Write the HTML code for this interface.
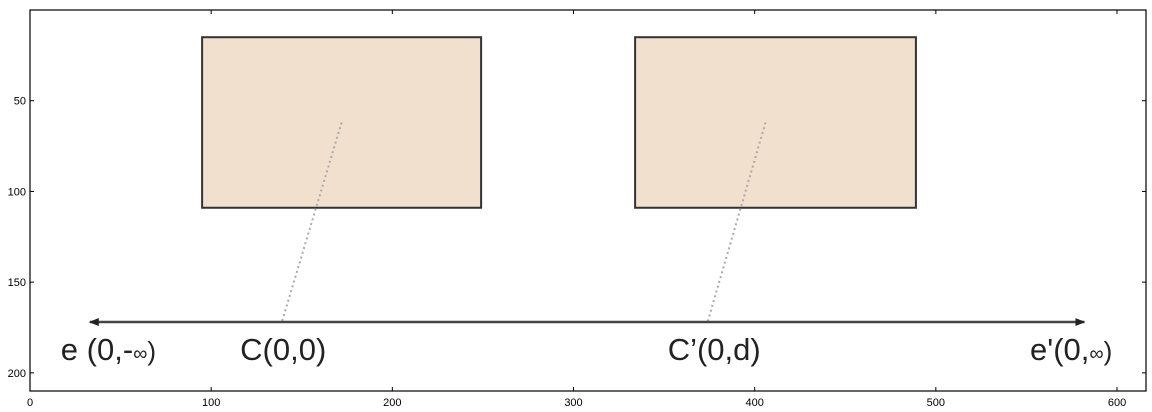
<!DOCTYPE html>
<html><head><meta charset="utf-8"><style>
html,body{margin:0;padding:0;background:#fff;width:1152px;height:412px;overflow:hidden}
svg{display:block;font-family:"Liberation Sans","DejaVu Sans",sans-serif}
</style></head><body>
<svg id="c" width="1152" height="412"></svg>
<script>
const xTicks=[0,100,200,300,400,500,600];
const yTicks=[50,100,150,200];
const xMax=616, yMax=210;
const rects=[[95,15,249,109],[334,15,489,109]];
const dots=[[172,62,139,172],[406,62,374,172]];
const arrow=[33,172,582,172];
const labels=[["e (0,-","∞",")",17,193],["C(0,0)","","",116,193],["C’(0,d)","","",352,193],["e'(0,","∞",")",552,193]];
const L=30,R=1146,T=10,B=391;
const sx=v=>L+v*(R-L)/xMax, sy=v=>T+v*(B-T)/yMax;
const svg=document.getElementById('c');const NS='http://www.w3.org/2000/svg';
function mk(t,a,p){const e=document.createElementNS(NS,t);for(const k in a)e.setAttribute(k,a[k]);(p||svg).appendChild(e);return e;}
const defs=mk('defs',{});
const m=mk('marker',{id:'ah',markerWidth:10,markerHeight:8,refX:9,refY:4,orient:'auto-start-reverse',markerUnits:'userSpaceOnUse'},defs);
mk('path',{d:'M0,0 L10,4 L0,8 z',fill:'#222'},m);
rects.forEach((r,i)=>{const e=mk('rect',{x:sx(r[0]),y:sy(r[1]),width:sx(r[2])-sx(r[0]),height:sy(r[3])-sy(r[1]),fill:'#f2e0cf',stroke:'#333','stroke-width':2});

});
dots.forEach((d,i)=>{const e=mk('line',{x1:sx(d[0]),y1:sy(d[1]),x2:sx(d[2]),y2:sy(d[3]),stroke:'#aaa','stroke-width':2,'stroke-dasharray':'2,3'});

});
const a=mk('line',{x1:sx(arrow[0]),y1:sy(arrow[1]),x2:sx(arrow[2]),y2:sy(arrow[3]),stroke:'#444','stroke-width':2.5,'marker-start':'url(#ah)','marker-end':'url(#ah)'});


labels.forEach((l,i)=>{const t=mk('text',{x:sx(l[3]),y:sy(l[4]),'font-size':31,fill:'#222'});
const s1=mk('tspan',{},t);s1.textContent=l[0];
if(l[1]){const s2=mk('tspan',{'font-size':20},t);s2.textContent=l[1];const s3=mk('tspan',{'font-size':26},t);s3.textContent=l[2];}

});
const f=mk('rect',{x:L,y:T,width:R-L,height:B-T,fill:'none',stroke:'#000','stroke-width':1.2});


xTicks.forEach(v=>{const x=sx(v);mk('line',{x1:x,y1:B,x2:x,y2:B-4,stroke:'#000'});mk('line',{x1:x,y1:T,x2:x,y2:T+4,stroke:'#000'});
const t=mk('text',{x:x,y:B+15,'font-size':11,'text-anchor':'middle'});t.textContent=v;

});
yTicks.forEach(v=>{const y=sy(v);mk('line',{x1:L,y1:y,x2:L+4,y2:y,stroke:'#000'});mk('line',{x1:R,y1:y,x2:R-4,y2:y,stroke:'#000'});
const t=mk('text',{x:L-4,y:y+4,'font-size':11,'text-anchor':'end'});t.textContent=v;

});
</script>
</body></html>
